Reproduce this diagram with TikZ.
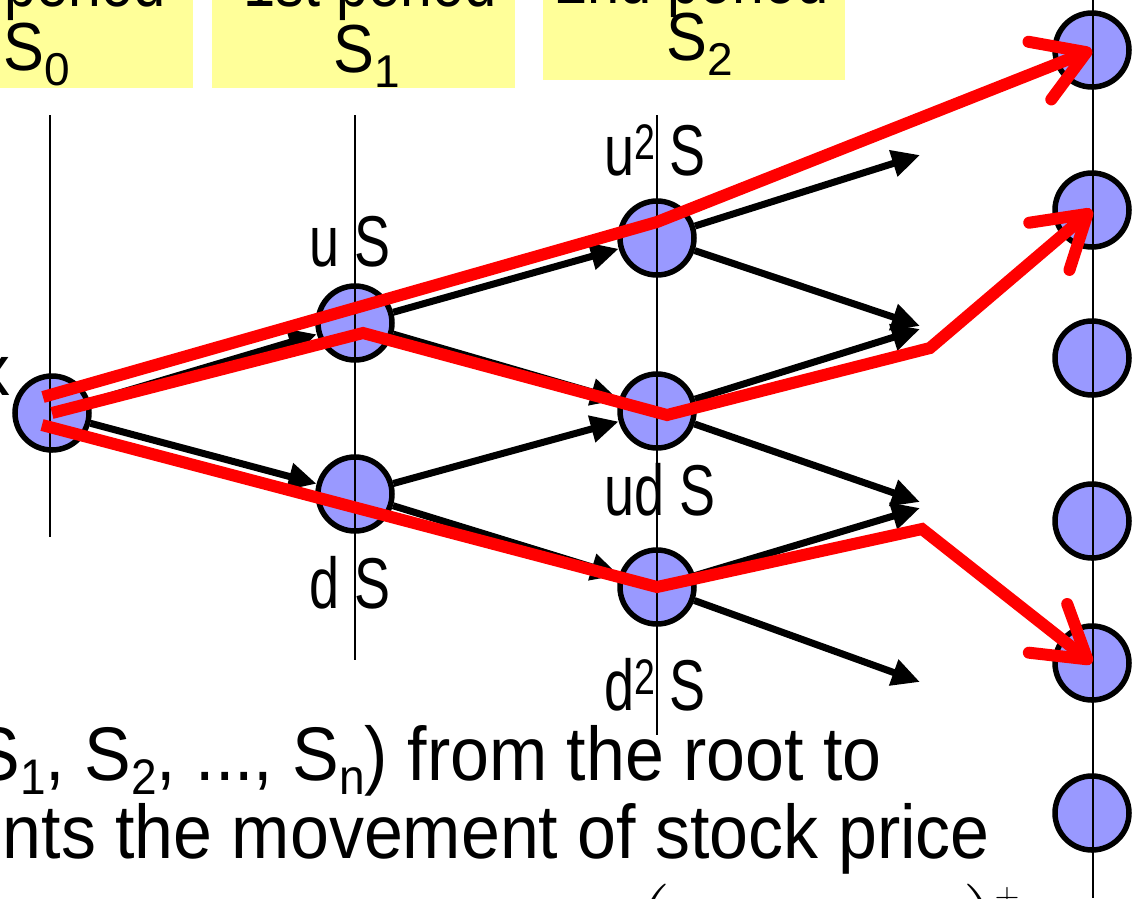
\documentclass[tikz,border=0pt]{standalone}
\usepackage{fontspec}
\newfontfamily\arial{Liberation Sans}
\usetikzlibrary{arrows.meta}
\definecolor{nodeblue}{HTML}{9999FF}
\definecolor{hdryellow}{HTML}{FFFF99}
\definecolor{pathred}{HTML}{FF0000}
\newcommand\lowsub[3]{\raisebox{-#3pt}{\fontsize{#1}{#1}\selectfont #2}}
\newcommand\highsup[3]{\raisebox{#3pt}{\fontsize{#1}{#1}\selectfont #2}}
\tikzset{
  treenode/.style={circle, draw=black, line width=5.5pt, fill=nodeblue, minimum size=74pt, inner sep=0pt},
  blkarrow/.style={line width=7pt, -{Triangle[length=28pt,width=26pt]}},
  redpath/.style={draw=pathred, line width=12pt, -{Straight Barb[length=50pt,width=62pt,round]}},
  thinline/.style={line width=1.8pt},
  hdrtext/.style={inner sep=0pt, font=\arial\fontsize{68}{68}\selectfont},
  lbltext/.style={inner sep=0pt, font=\arial\fontsize{72}{72}\selectfont},
  bodytext/.style={inner sep=0pt, font=\arial\fontsize{76}{76}\selectfont},
}
\begin{document}
\begin{tikzpicture}[x=1pt,y=-1pt]
\useasboundingbox (0,0) rectangle (1136,898);
\clip (0,0) rectangle (1136,898);
% header boxes
\fill[hdryellow] (0,0) rectangle (193,88);
\fill[hdryellow] (212,0) rectangle (515,88);
\fill[hdryellow] (543,0) rectangle (845,80);
\node[hdrtext, anchor=base] (h0a) at (85,6) {\scalebox{0.85}[1]{period}};
\node[hdrtext, anchor=base west] (h0b) at (3,70) {\scalebox{0.9}[1]{S}\lowsub{46}{0}{15}};
\node[hdrtext, anchor=base] (h1a) at (370,6) {\scalebox{0.85}[1]{1st period}};
\node[hdrtext, anchor=base west] (h1b) at (333,72) {\scalebox{0.9}[1]{S}\lowsub{46}{1}{15}};
\node[hdrtext, anchor=base] (h2a) at (692,3) {\scalebox{0.85}[1]{2nd period}};
\node[hdrtext, anchor=base west] (h2b) at (666,60) {\scalebox{0.9}[1]{S}\lowsub{46}{2}{15}};
% tree nodes
\node[treenode] (root) at (52,413) {};
\node[treenode] (uS) at (355,323) {};
\node[treenode] (dS) at (355,494) {};
\node[treenode] (u2) at (657,238) {};
\node[treenode] (ud) at (657,411) {};
\node[treenode] (d2) at (657,587) {};
\node[treenode] (r1) at (1092,50) {};
\node[treenode] (r2) at (1092,210) {};
\node[treenode] (r3) at (1092,358) {};
\node[treenode] (r4) at (1092,521) {};
\node[treenode] (r5) at (1092,663) {};
\node[treenode] (r6) at (1092,813) {};
% vertical time lines
\draw[thinline] (50,115) -- (50,537);
\draw[thinline] (355,115) -- (355,660);
\draw[thinline] (657,115) -- (657,735);
\draw[thinline] (1093,0) -- (1093,898);
% free ends of last arrows
\coordinate (e1) at (920,155);
\coordinate (e2a) at (920,326);
\coordinate (e2b) at (920,329);
\coordinate (e3a) at (920,502);
\coordinate (e3b) at (920,508);
\coordinate (e4) at (920,682);
% black arrows
\draw[blkarrow] (root) -- (uS);
\draw[blkarrow] (root) -- (dS);
\draw[blkarrow] (uS) -- (u2);
\draw[blkarrow] (uS) -- (ud);
\draw[blkarrow] (dS) -- (ud);
\draw[blkarrow] (dS) -- (d2);
\draw[blkarrow] (u2) -- (e1);
\draw[blkarrow] (u2) -- (e2a);
\draw[blkarrow] (ud) -- (e2b);
\draw[blkarrow] (ud) -- (e3a);
\draw[blkarrow] (d2) -- (e3b);
\draw[blkarrow] (d2) -- (e4);
% labels
\node[lbltext, anchor=base] (luS) at (350,266) {\scalebox{0.75}[1]{u S}};
\node[lbltext, anchor=base] (lu2) at (655,175) {\scalebox{0.75}[1]{u\highsup{50}{2}{16} S}};
\node[lbltext, anchor=base] (lud) at (660,515) {\scalebox{0.75}[1]{ud S}};
\node[lbltext, anchor=base] (ldS) at (350,608) {\scalebox{0.75}[1]{d S}};
\node[lbltext, anchor=base] (ld2) at (655,710) {\scalebox{0.75}[1]{d\highsup{50}{2}{16} S}};
\node[lbltext, anchor=base east] (lx) at (11,395) {x};
% red paths
\coordinate (p1s) at (43,397);
\coordinate (p1b) at (657,222);
\coordinate (p2b) at (363,333);
\coordinate (p2c) at (667,415);
\coordinate (p2d) at (930,348);
\coordinate (p3s) at (42,425);
\coordinate (p3c) at (922,529);
\draw[redpath] (p1s) -- (p1b) -- (r1.center);
\draw[redpath] (root.center) -- (p2b) -- (p2c) -- (p2d) -- (r2.center);
\draw[redpath] (p3s) -- (d2.center) -- (p3c) -- (r5.center);
% bottom text
\node[bodytext, anchor=base east] (t1) at (882,780) {\scalebox{0.92}[1]{S\lowsub{50}{1}{14}, S\lowsub{50}{2}{14}, ..., S\lowsub{50}{n}{14}) from the root to}};
\node[bodytext, anchor=base east] (t2) at (990,858) {\scalebox{0.92}[1]{nts the movement of stock price}};
\node[inner sep=0pt, anchor=base, font=\fontsize{110}{110}\selectfont] (lp) at (652,966) {(};
\node[inner sep=0pt, anchor=base, font=\fontsize{110}{110}\selectfont] (rp) at (982,966) {)};
\node[inner sep=0pt, anchor=base, font=\fontsize{34}{34}\selectfont] (plus) at (1007,906) {+};
\end{tikzpicture}
\end{document}
